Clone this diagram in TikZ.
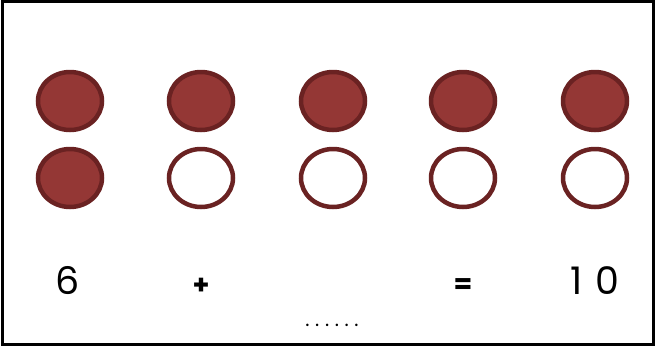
\documentclass[tikz,border=0pt]{standalone}
\usepackage{fontspec}
\setmainfont{Poppins}
\usetikzlibrary{shapes.geometric}
\definecolor{bead}{HTML}{943735}
\definecolor{beadline}{HTML}{6A2222}
\begin{document}
\begin{tikzpicture}[x=1pt,y=-1pt,
  full/.style={ellipse,draw=beadline,line width=4.5pt,fill=bead,minimum width=64pt,minimum height=58pt,inner sep=0pt},
  empty/.style={ellipse,draw=beadline,line width=4.5pt,fill=white,minimum width=64pt,minimum height=58pt,inner sep=0pt},
  num/.style={font=\fontsize{38}{38}\selectfont,inner sep=0pt},
  op/.style={font=\fontsize{27}{27}\selectfont\bfseries,inner sep=0pt}]
\useasboundingbox (0,0) rectangle (656,346);
\fill[white] (0,0) rectangle (656,346);
\draw[line width=2.5pt] (2.5,1.5) rectangle (653.5,344.5);
\foreach \i/\x in {1/70,2/201,3/333,4/463,5/595}{
  \node[full] (t\i) at (\x,101) {};
}
\node[full] (b1) at (70,178) {};
\foreach \i/\x in {2/201,3/333,4/463,5/595}{
  \node[empty] (b\i) at (\x,178) {};
}
\node[num] (six) at (68,281) {6};
\node[op] (plus) at (201,286) {+};
\node[op] (eq) at (463,286) {=};
\node[num] (ten) at (595,281) {1\,\,0};
\node[font=\fontsize{20}{20}\selectfont,inner sep=0pt] (dots) at (332,325) {.\hspace{5.6pt}.\hspace{5.6pt}.\hspace{5.6pt}.\hspace{5.6pt}.\hspace{5.6pt}.};
\end{tikzpicture}
\end{document}
